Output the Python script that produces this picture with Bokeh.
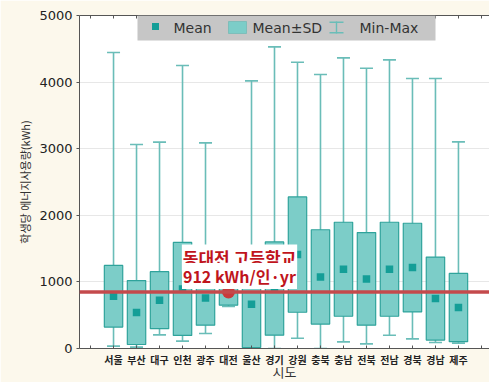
import math
from bokeh.plotting import figure
from bokeh.models import (Range1d, FixedTicker, LinearAxis, Whisker, ColumnDataSource,
                          Span, Label, BoxAnnotation, TeeHead)
from bokeh.embed import file_html
from bokeh.resources import INLINE

# ---- data ----
regions = ["서울", "부산", "대구", "인천", "광주", "대전", "울산", "경기",
           "강원", "충북", "충남", "전북", "전남", "경북", "경남", "제주"]
mean = [785, 540, 725, 895, 760, 850, 665, 900, 1410, 1075, 1190, 1045, 1190, 1215, 750, 615]
sd = [463, 480, 428, 698, 410, 200, 650, 700, 866, 708, 706, 695, 706, 666, 623, 513]
vmin = [35, 20, 205, 110, 225, 630, 0, 0, 155, 0, 100, 70, 200, 145, 90, 80]
vmax = [4444, 3063, 3098, 4249, 3087, 1370, 4018, 4529, 4299, 4114, 4363, 4209, 4333, 4054, 4054, 3102]
y_ticks = [0, 1000, 2000, 3000, 4000, 5000]
school_region = "대전"
school_value = 850
school_name = "동대전 고등학교"
school_text = "912 kWh/인·yr"
legend_labels = ["Mean", "Mean±SD", "Min-Max"]
x_title = "시도"
y_title = "학생당 에너지사용량(kWh)"

# ---- styles ----
TEAL_FILL = "#7ccdc8"
TEAL_LINE = "#2fa39b"
WHISK = "#6abdb8"
MEAN_C = "#149e97"
RED = "#c44a4c"
CREAM = "#fcf8ec"
KFONT = "Noto Sans CJK KR"

xs = list(range(len(regions)))
lower = [m - s for m, s in zip(mean, sd)]
upper = [m + s for m, s in zip(mean, sd)]
src = ColumnDataSource(dict(x=xs, mean=mean, lower=lower, upper=upper,
                            vmin=vmin, vmax=vmax))

p = figure(width=489, height=382, output_backend="svg", toolbar_location=None,
           x_range=Range1d(-1.48, 16.35), y_range=Range1d(0, 5000),
           frame_width=410, frame_height=333,
           min_border_left=79, min_border_right=0, min_border_top=15, min_border_bottom=34,
           background_fill_color="white", border_fill_color=CREAM,
           outline_line_color=None)

# axes
tick_pos = list(range(-1, len(regions) + 1))
overrides = {i: "" for i in tick_pos}
for i, r in enumerate(regions):
    overrides[i] = r
xa = p.xaxis[0]
xa.ticker = FixedTicker(ticks=tick_pos)
xa.major_label_overrides = overrides
xa.major_tick_in = 3
xa.major_tick_out = 0
xa.minor_tick_line_color = None
xa.axis_line_color = "#555555"
xa.major_tick_line_color = "#555555"
xa.major_label_text_font = KFONT
xa.major_label_text_font_style = "bold"
xa.major_label_text_font_size = "10px"
xa.major_label_text_color = "#222222"
xa.major_label_standoff = 3
xa.axis_label = x_title
xa.axis_label_text_font = KFONT
xa.axis_label_text_font_style = "normal"
xa.axis_label_text_font_size = "13px"
xa.axis_label_text_color = "#333333"
xa.axis_label_standoff = -8

top = LinearAxis(ticker=FixedTicker(ticks=tick_pos),
                 major_label_overrides={i: "" for i in tick_pos},
                 major_tick_in=3, major_tick_out=0, minor_tick_line_color=None,
                 axis_line_color="#555555", major_tick_line_color="#555555",
                 major_label_standoff=0)
p.add_layout(top, "above")

ya = p.yaxis[0]
ya.ticker = FixedTicker(ticks=y_ticks)
ya.major_tick_in = 0
ya.major_tick_out = 3
ya.minor_tick_line_color = None
ya.axis_line_color = "#555555"
ya.major_tick_line_color = "#555555"
ya.major_label_text_font = "DejaVu Sans"
ya.major_label_text_font_size = "13px"
ya.major_label_text_color = "#222222"
ya.major_label_standoff = 4
ya.axis_label = y_title
ya.axis_label_text_font = KFONT
ya.axis_label_text_font_style = "normal"
ya.axis_label_text_font_size = "11px"
ya.axis_label_text_color = "#333333"
ya.axis_label_standoff = 3

p.xgrid.grid_line_color = None
p.ygrid.ticker = FixedTicker(ticks=y_ticks)
p.ygrid.grid_line_color = "#cfcfcf"
p.ygrid.grid_line_dash = "1 1"

# whiskers (min-max)
wh = Whisker(base="x", lower="vmin", upper="vmax", source=src, line_color=WHISK, line_width=1.6,
             upper_head=TeeHead(size=13, line_color=WHISK, line_width=1.6),
             lower_head=TeeHead(size=13, line_color=WHISK, line_width=1.6),
             level="underlay")
p.add_layout(wh)

# mean +- sd boxes
p.vbar(x="x", width=0.8, bottom="lower", top="upper", source=src,
       fill_color=TEAL_FILL, line_color=TEAL_LINE, line_width=1.2)
# mean markers
p.scatter(x="x", y="mean", source=src, marker="square", size=7.5,
          fill_color=MEAN_C, line_color=None)

# school reference
p.add_layout(Span(location=school_value, dimension="width", line_color=RED, line_width=3.5))
sx = regions.index(school_region)
p.scatter(x=[sx], y=[school_value], size=13, fill_color="#c83a3c", line_color=None)
p.add_layout(Label(x=sx, y=school_value, x_offset=11, y_offset=34, text=school_name,
                   text_align="center", text_baseline="middle", text_font=KFONT,
                   text_font_style="bold", text_font_size="17px", text_color="#c0141c",
                   background_fill_color="white", padding=1))
p.add_layout(Label(x=sx, y=school_value, x_offset=11, y_offset=16, text=school_text,
                   text_align="center", text_baseline="middle", text_font=KFONT,
                   text_font_style="bold", text_font_size="16px", text_color="#c0141c",
                   background_fill_color="white", padding=1))

# manual legend (screen units, relative to frame)
S = "screen"
p.add_layout(BoxAnnotation(left=58, right=356, bottom=308, top=333, left_units=S, right_units=S,
                           bottom_units=S, top_units=S, fill_color="#c6c6c6", fill_alpha=1,
                           line_color=None, level="overlay"))
p.add_layout(BoxAnnotation(left=72.5, right=79.5, bottom=318.5, top=325.5, left_units=S,
                           right_units=S, bottom_units=S, top_units=S, fill_color=MEAN_C,
                           fill_alpha=1, line_color=None, level="overlay"))
p.add_layout(BoxAnnotation(left=149, right=167, bottom=315, top=327, left_units=S,
                           right_units=S, bottom_units=S, top_units=S, fill_color=TEAL_FILL,
                           fill_alpha=1, line_color=TEAL_LINE, line_width=1, level="overlay"))
for l, r, b, t in [(250, 264, 325.5, 327), (256.3, 257.7, 315, 327), (250, 264, 315, 316.5)]:
    p.add_layout(BoxAnnotation(left=l, right=r, bottom=b, top=t, left_units=S, right_units=S,
                               bottom_units=S, top_units=S, fill_color=WHISK, fill_alpha=1,
                               line_color=None, level="overlay"))
for txt, lx in zip(legend_labels, [94, 173, 280]):
    p.add_layout(Label(x=lx, y=321, x_units=S, y_units=S, text=txt, text_align="left",
                       text_baseline="middle", text_font="DejaVu Sans",
                       text_font_size="14px", text_color="#333333", level="overlay"))

open("out.html", "w").write(file_html(p, INLINE))
